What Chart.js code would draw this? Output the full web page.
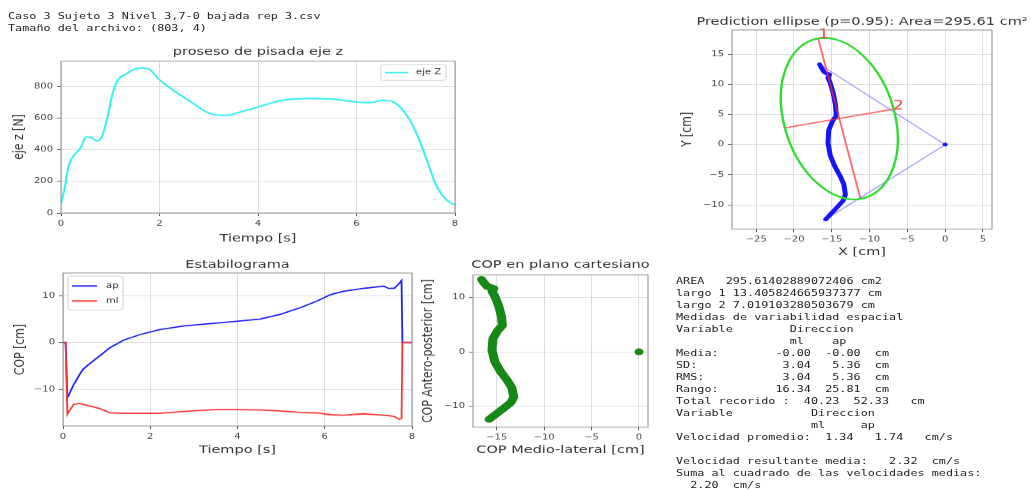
<!DOCTYPE html>
<html>
<head>
<meta charset="utf-8">
<script src="https://cdn.jsdelivr.net/npm/chart.js@4.4.1/dist/chart.umd.min.js"></script>
<style>
  html, body { margin: 0; padding: 0; background: #fff; overflow: hidden; width: 1031px; height: 490px; }
  /* the reference figure is squeezed vertically, so the whole page is laid out taller and scaled */
  #fig { position: absolute; left: 0; top: 0; width: 1031px; height: 654px; transform: scaleY(0.75); transform-origin: 0 0; }
  canvas { position: absolute; }
  pre { position: absolute; margin: 0; font-family: 'DejaVu Sans Mono', monospace; font-size: 11.8px; line-height: 16px; color: #222; }
</style>
</head>
<body>
<div id="fig">
<pre style="left:8px; top:13.3px">Caso 3 Sujeto 3 Nivel 3,7-0 bajada rep 3.csv
Tamaño del archivo: (803, 4)</pre>
<canvas id="cZ"></canvas>
<canvas id="cEst"></canvas>
<canvas id="cCart"></canvas>
<canvas id="cElip"></canvas>
<pre style="left:676px; top:365.7px">AREA   295.61402889072406 cm2
largo 1 13.405824665937377 cm
largo 2 7.019103280503679 cm
Medidas de variabilidad espacial
Variable        Direccion
                ml    ap
Media:        -0.00  -0.00  cm
SD:            3.04   5.36  cm
RMS:           3.04   5.36  cm
Rango:        16.34  25.81  cm
Total recorido :  40.23  52.33   cm
Variable           Direccion
                   ml     ap
Velocidad promedio:  1.34   1.74   cm/s

Velocidad resultante media:   2.32  cm/s
Suma al cuadrado de las velocidades medias:
  2.20  cm/s</pre>
</div>
<script>
// fuerza vertical (eje z)
const tiempoZ = [0, 0.08, 0.15, 0.22, 0.39, 0.52, 0.62, 0.72, 0.83, 0.93, 1.03, 1.13, 1.33, 1.6, 1.77, 2.01, 2.28, 2.69, 3.03, 3.36, 3.64, 4.04, 4.51, 4.99, 5.53, 6.0, 6.27, 6.54, 6.75, 7.02, 7.22, 7.43, 7.63, 7.83, 8.0];
const fuerzaZ = [58, 166, 292, 345, 408, 481, 475, 456, 481, 586, 733, 827, 880, 916, 911, 838, 775, 691, 628, 617, 638, 674, 712, 723, 719, 701, 697, 712, 701, 617, 502, 334, 166, 82, 50];
const ticksTiempo = [0, 2, 4, 6, 8];
const ticksFuerza = [0, 200, 400, 600, 800];

// estabilograma
const tiempoCOP = [0, 0.06, 0.1, 0.14, 0.25, 0.37, 0.46, 0.6, 0.85, 1.08, 1.39, 1.77, 2.2, 2.76, 3.1, 3.5, 3.98, 4.52, 4.98, 5.44, 5.82, 6.13, 6.43, 6.87, 7.35, 7.47, 7.6, 7.71, 7.76, 7.78, 8.0];
const apTiempo = [0, 0, -11.8, -11.0, -8.9, -7.0, -5.7, -4.6, -2.8, -1.1, 0.5, 1.7, 2.7, 3.5, 3.8, 4.1, 4.5, 5.0, 6.0, 7.4, 8.8, 10.2, 10.9, 11.5, 12.0, 11.5, 11.6, 12.6, 13.2, 0, 0];
const mlTiempo = [0, 0, -15.3, -14.6, -13.2, -13.0, -13.2, -13.5, -14.1, -15.0, -15.1, -15.1, -15.1, -14.7, -14.5, -14.3, -14.3, -14.4, -14.6, -14.9, -15.0, -15.4, -15.5, -15.2, -15.5, -15.6, -15.8, -16.4, -16.2, 0, 0];
const ticksCOP = [-10, 0, 10];

// trayectoria del COP (ml, ap)
const pathML = [-15.8, -15.2, -14.3, -13.5, -13.2, -13.4, -13.9, -14.6, -15.2, -15.5, -15.4, -14.9, -14.4, -14.5, -14.8, -15.2, -15.5, -15.3, -16.0, -16.4, -16.6];
const pathAP = [-12.4, -11.6, -10.4, -9.3, -8.3, -6.6, -5.2, -3.6, -1.8, 0.3, 2.4, 3.9, 4.8, 6.5, 8.5, 10.2, 11.1, 11.6, 12.0, 12.8, 13.3];
const origenML = [0];
const origenAP = [0];
const ticksML = [-15, -10, -5, 0];
const ticksAP = [-10, 0, 10];

// ejes de la elipse de prediccion
const eje1ML = [-16.8, -11.2];
const eje1AP = [17.6, -9.0];
const eje2ML = [-21.3, -6.9];
const eje2AP = [2.75, 5.85];
const ticksX4 = [-25, -20, -15, -10, -5, 0, 5];
const ticksY4 = [-10, -5, 0, 5, 10, 15];

Chart.defaults.font.family = "'DejaVu Sans', sans-serif";
Chart.defaults.color = '#444';

const LH = 14.5 * 1.2;
const pts = (xs, ys) => xs.map((x, i) => ({ x: x, y: ys[i] }));
const fmt = v => (v < 0 ? '\u2212' + Math.abs(v) : String(v));

function axis(min, max, tickVals, title) {
  return {
    type: 'linear', min: min, max: max,
    afterBuildTicks: s => { s.ticks = tickVals.map(v => ({ value: v })); },
    ticks: { callback: fmt, font: { size: 10 }, color: '#444', padding: 4, autoSkip: false, maxRotation: 0 },
    grid: { color: '#dcdcdc', tickColor: '#555', tickLength: 4 },
    border: { display: false },
    title: { display: true, text: title, font: { size: 14.5 }, color: '#333', padding: 0 }
  };
}

// frame, panel title and an inside legend
const deco = {
  id: 'deco',
  afterDraw(chart, args, o) {
    const { ctx, chartArea: a } = chart;
    ctx.save();
    ctx.strokeStyle = '#8c8c8c';
    ctx.lineWidth = 1;
    ctx.strokeRect(a.left, a.top, a.width, a.height);
    ctx.fillStyle = '#333';
    ctx.font = "14.5px 'DejaVu Sans'";
    ctx.textAlign = 'center';
    ctx.textBaseline = 'middle';
    ctx.fillText(o.title, (a.left + a.right) / 2, a.top - o.gap);
    const lg = o.legend;
    if (lg) {
      const bx = lg.right ? a.right - lg.dx - lg.w : a.left + lg.dx;
      const by = a.top + lg.dy;
      ctx.beginPath();
      ctx.roundRect(bx, by, lg.w, lg.h, 3);
      ctx.fillStyle = 'rgba(255,255,255,0.85)';
      ctx.fill();
      ctx.strokeStyle = '#d0d0d0';
      ctx.stroke();
      ctx.font = "10px 'DejaVu Sans'";
      ctx.textAlign = 'left';
      chart.data.datasets.filter(d => d.label).forEach((d, i) => {
        const ry = by + lg.row0 + i * lg.step;
        ctx.beginPath();
        ctx.moveTo(bx + lg.l0, ry);
        ctx.lineTo(bx + lg.l1, ry);
        ctx.strokeStyle = d.borderColor;
        ctx.lineWidth = 2;
        ctx.stroke();
        ctx.fillStyle = '#333';
        ctx.fillText(d.label, bx + lg.tx, ry);
      });
    }
    ctx.restore();
  }
};

// ellipse from its two axes plus the axis numbers
const elipse = {
  id: 'elipse',
  afterDatasetsDraw(chart) {
    const { ctx, scales: { x, y } } = chart;
    const cx = (eje1ML[0] + eje1ML[1]) / 2, cy = (eje1AP[0] + eje1AP[1]) / 2;
    const ra = Math.hypot(eje1ML[0] - eje1ML[1], eje1AP[0] - eje1AP[1]) / 2;
    const rb = Math.hypot(eje2ML[0] - eje2ML[1], eje2AP[0] - eje2AP[1]) / 2;
    const ang = Math.atan2(eje1AP[0] - cy, eje1ML[0] - cx);
    const kx = x.getPixelForValue(1) - x.getPixelForValue(0);
    const ky = y.getPixelForValue(1) - y.getPixelForValue(0);
    ctx.save();
    ctx.translate(x.getPixelForValue(cx), y.getPixelForValue(cy));
    ctx.scale(kx, ky);
    ctx.rotate(ang);
    ctx.beginPath();
    ctx.ellipse(0, 0, ra, rb, 0, 0, 2 * Math.PI);
    ctx.restore();
    ctx.save();
    ctx.strokeStyle = '#2fdc2f';
    ctx.lineWidth = 2.4;
    ctx.stroke();
    ctx.fillStyle = 'rgba(255,40,40,0.9)';
    ctx.font = "17px 'DejaVu Sans'";
    ctx.textAlign = 'left';
    ctx.textBaseline = 'alphabetic';
    ctx.fillText('1', x.getPixelForValue(eje1ML[0]), y.getPixelForValue(eje1AP[0]));
    ctx.fillText('2', x.getPixelForValue(eje2ML[1]), y.getPixelForValue(eje2AP[1]));
    ctx.restore();
  }
};

function panel(id, box, type, scales, datasets, legend, plugins) {
  const cv = document.getElementById(id);
  const left = Math.floor(box.ylab - LH / 2);
  const yw = box.left - left;
  const top = Math.floor(box.top - 20);
  const padT = box.top - top;
  const height = Math.ceil(padT + box.h + box.xlab - (box.top + box.h) + LH / 2);
  const xh = height - padT - box.h;
  const width = Math.ceil(yw + box.w + (box.padR || 12));
  const padR = width - yw - box.w;
  cv.width = width; cv.height = height;
  cv.style.left = left + 'px'; cv.style.top = top + 'px';
  cv.style.width = width + 'px'; cv.style.height = height + 'px';
  scales.x.afterFit = s => { s.height = xh; };
  scales.y.afterFit = s => { s.width = yw; };
  return new Chart(cv, {
    type: type,
    data: { datasets: datasets },
    options: {
      responsive: false, animation: false, events: [],
      layout: { padding: { left: 0, top: padT, right: padR, bottom: 0 } },
      scales: scales,
      plugins: {
        legend: { display: false }, tooltip: { enabled: false },
        deco: { title: box.title, gap: box.top - box.titleY, legend: legend }
      }
    },
    plugins: [deco].concat(plugins || [])
  });
}

const S = 0.75;
const Y = v => v / S;

panel('cZ',
  { left: 61, top: Y(61), w: 394, h: Y(213) - Y(61), ylab: 20.5, xlab: Y(238), titleY: Y(52), title: 'proseso de pisada eje z' },
  'line',
  { x: axis(0, 8, ticksTiempo, 'Tiempo [s]'), y: axis(0, 960, ticksFuerza, 'eje z [N]') },
  [{ label: 'eje Z', data: pts(tiempoZ, fuerzaZ), borderColor: '#3ff0f2', borderWidth: 2.2, pointRadius: 0, cubicInterpolationMode: 'monotone' }],
  { right: true, dx: 9, dy: 4.7, w: 65, h: 21.3, row0: 10.7, step: 0, l0: 4, l1: 27, tx: 35 }
);

panel('cEst',
  { left: 63, top: Y(273), w: 349, h: Y(426) - Y(273), ylab: 21, xlab: Y(450), titleY: Y(265), title: 'Estabilograma', padR: 8 },
  'line',
  { x: axis(0, 8, ticksTiempo, 'Tiempo [s]'), y: axis(-17.8, 14.8, ticksCOP, 'COP [cm]') },
  [
    { label: 'ap', data: pts(tiempoCOP, apTiempo), borderColor: '#2020ff', borderWidth: 1.8, pointRadius: 0, order: 1 },
    { label: 'ml', data: pts(tiempoCOP, mlTiempo), borderColor: '#ff3535', borderWidth: 1.8, pointRadius: 0, order: 0 }
  ],
  { right: false, dx: 5, dy: 4, w: 55, h: 45.3, row0: 13.3, step: 20, l0: 4, l1: 29, tx: 38 }
);

panel('cCart',
  { left: 473, top: Y(275), w: 175, h: Y(427) - Y(275), ylab: 429, xlab: Y(450), titleY: Y(265), title: 'COP en plano cartesiano' },
  'scatter',
  { x: axis(-17.5, 0.95, ticksML, 'COP Medio-lateral [cm]'), y: axis(-13.8, 14.1, ticksAP, 'COP Antero-posterior [cm]') },
  [
    { data: pts(pathML, pathAP), showLine: true, borderColor: '#168816', borderWidth: 9, borderCapStyle: 'round', borderJoinStyle: 'round', pointRadius: 0 },
    { data: pts(origenML, origenAP), pointRadius: 4.5, backgroundColor: '#168816', borderWidth: 0 }
  ]
);

panel('cElip',
  { left: 732, top: Y(30), w: 260, h: Y(229) - Y(30), ylab: 688.5, xlab: Y(252), titleY: Y(22), title: 'Prediction ellipse (p=0.95): Area=295.61 cm\u00b2', padR: 60 },
  'scatter',
  { x: axis(-28.2, 6.2, ticksX4, 'X [cm]'), y: axis(-14.0, 19.0, ticksY4, 'Y [cm]') },
  [
    { data: pts(origenML.concat(pathML, origenML), origenAP.concat(pathAP, origenAP)), showLine: true, borderColor: 'rgba(70,70,255,0.45)', borderWidth: 1.6, pointRadius: 0, order: 3 },
    { data: pts(pathML, pathAP), showLine: true, borderColor: '#1414ff', borderWidth: 5, borderCapStyle: 'round', borderJoinStyle: 'round', pointRadius: 0, order: 2 },
    { data: pts(origenML, origenAP), pointRadius: 2.5, backgroundColor: '#1414ff', borderWidth: 0, order: 2 },
    { data: pts(eje1ML, eje1AP), showLine: true, borderColor: 'rgba(255,40,40,0.7)', borderWidth: 1.8, pointRadius: 0, order: 1 },
    { data: pts(eje2ML, eje2AP), showLine: true, borderColor: 'rgba(255,40,40,0.7)', borderWidth: 1.8, pointRadius: 0, order: 1 }
  ],
  null,
  [elipse]
);
</script>
</body>
</html>
